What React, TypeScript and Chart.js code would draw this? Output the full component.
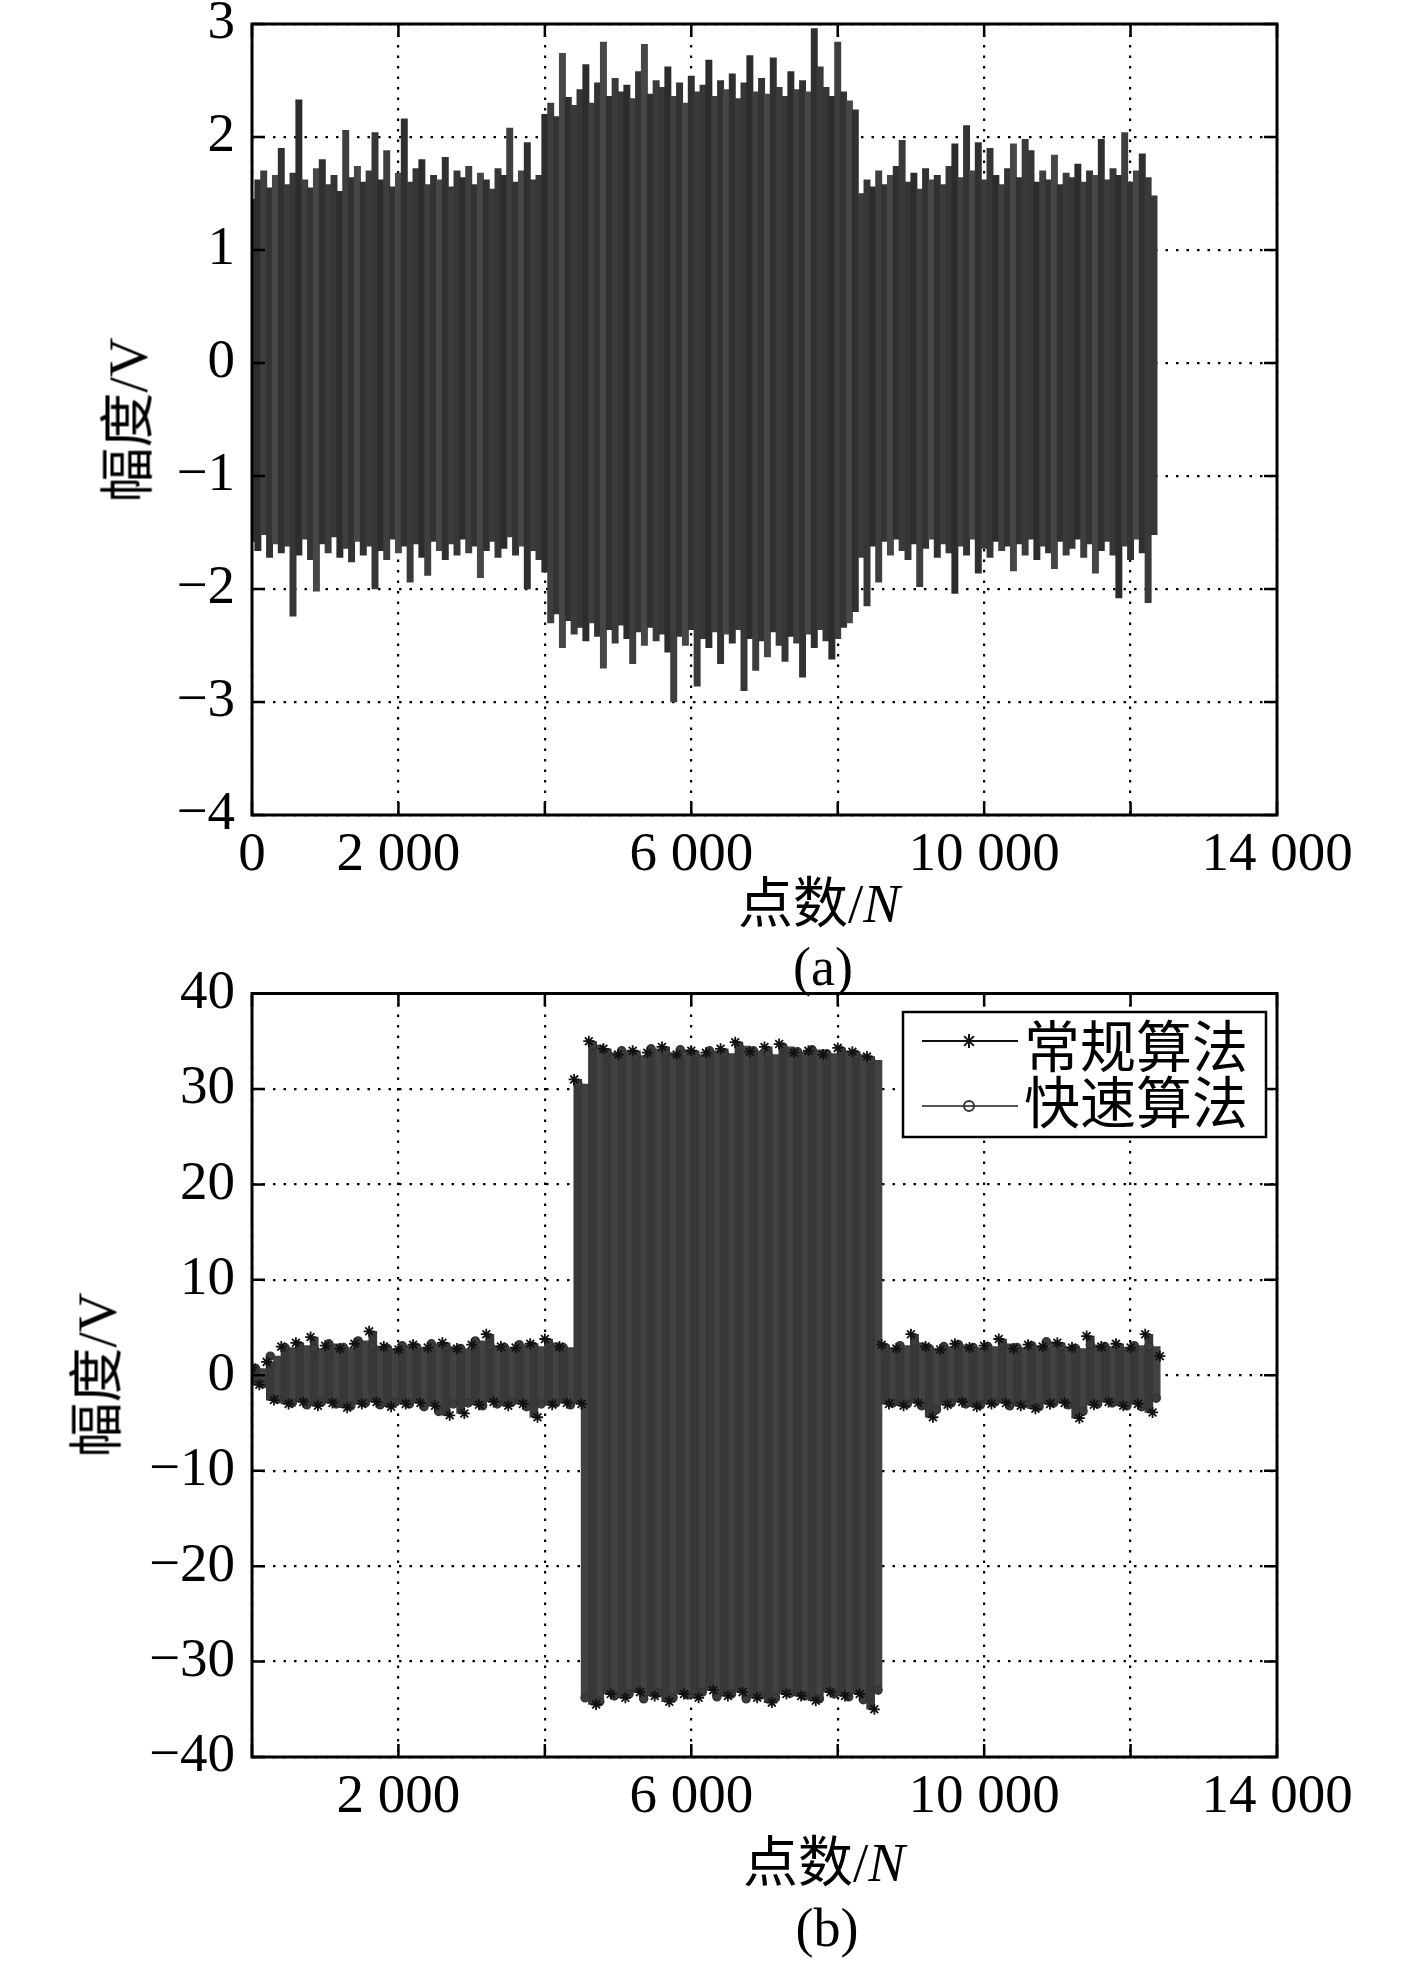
import React, { useEffect, useRef } from "react";
import { Chart, registerables } from "chart.js";

Chart.register(...registerables);

// ---------- shared axis data ----------
const X_MIN = 0;
const X_MAX = 14000;
const X_STEP = 2000;
const xLabelsA = [0, 2000, 6000, 10000, 14000];
const xLabelsB = [2000, 6000, 10000, 14000];
const yRangeA = [-4, 3];
const yRangeB = [-40, 40];

// ---------- panel (a): raw signal, extremes per 80-sample column ----------
// column x = 0, 80, 160, ... 12320
const aColStart = 0;
const aColStep = 80;
const aPeaks = [
  1.45, 1.62, 1.7, 1.55, 1.66, 1.9, 1.58, 1.68, 2.33, 1.62,
  1.55, 1.72, 1.8, 1.58, 1.66, 1.52, 2.06, 1.64, 1.74, 1.6,
  1.7, 2.04, 1.62, 1.88, 1.56, 1.68, 2.16, 1.6, 1.72, 1.8,
  1.58, 1.66, 1.62, 1.82, 1.56, 1.7, 1.64, 1.74, 1.58, 1.68,
  1.62, 1.54, 1.72, 1.66, 2.08, 1.6, 1.7, 1.95, 1.62, 1.66,
  2.2, 2.3, 2.18, 2.74, 2.35, 2.28, 2.42, 2.64, 2.3, 2.48,
  2.84, 2.36, 2.52, 2.4, 2.46, 2.34, 2.58, 2.82, 2.38, 2.5,
  2.44, 2.62, 2.36, 2.48, 2.3, 2.54, 2.4, 2.46, 2.68, 2.36,
  2.5, 2.42, 2.56, 2.34, 2.48, 2.72, 2.4, 2.52, 2.38, 2.7,
  2.44, 2.36, 2.58, 2.42, 2.5, 2.4, 2.96, 2.62, 2.44, 2.36,
  2.84, 2.4, 2.32, 2.24,
  1.5, 1.62, 1.56, 1.7, 1.58, 1.66, 1.74, 1.97, 1.6, 1.68,
  1.54, 1.72, 1.62, 1.66, 1.58, 1.74, 1.94, 1.64, 2.1, 1.7,
  1.95, 1.62, 1.9, 1.66, 1.58, 1.72, 1.94, 1.64, 1.98, 1.88,
  1.6, 1.7, 1.62, 1.84, 1.58, 1.68, 1.64, 1.76, 1.6, 1.7,
  1.66, 1.98, 1.62, 1.72, 1.66, 2.04, 1.6, 1.7, 1.85, 1.64,
  1.48,
];
const aTroughs = [
  -1.58, -1.66, -1.52, -1.72, -1.6, -1.68, -1.62, -2.24, -1.7, -1.56,
  -1.74, -2.02, -1.6, -1.68, -1.54, -1.72, -1.64, -1.76, -1.58, -1.7,
  -1.62, -2.0, -1.66, -1.74, -1.56, -1.68, -1.62, -1.94, -1.6, -1.72,
  -1.88, -1.58, -1.66, -1.74, -1.6, -1.7, -1.56, -1.68, -1.62, -1.9,
  -1.66, -1.58, -1.72, -1.64, -1.54, -1.7, -1.62, -2.0, -1.66, -1.74,
  -1.85, -2.3, -2.22, -2.52, -2.28, -2.4, -2.34, -2.46, -2.3, -2.42,
  -2.7, -2.36, -2.48, -2.32, -2.44, -2.66, -2.38, -2.5, -2.34, -2.46,
  -2.4, -2.56, -3.0, -2.42, -2.5, -2.36, -2.86, -2.44, -2.52, -2.38,
  -2.66, -2.4, -2.48, -2.36, -2.9, -2.44, -2.72, -2.46, -2.6, -2.38,
  -2.5, -2.64, -2.42, -2.48, -2.78, -2.4, -2.52, -2.36, -2.46, -2.62,
  -2.44, -2.34, -2.3, -2.2, -1.72, -2.15,
  -1.62, -1.94, -1.58, -1.7, -1.56, -1.66, -1.74, -1.6, -1.98, -1.64,
  -1.56, -1.72, -1.6, -1.68, -2.04, -1.62, -1.7, -1.56, -1.86, -1.64,
  -1.72, -1.58, -1.66, -1.62, -1.84, -1.6, -1.7, -1.56, -1.74, -1.62,
  -1.68, -1.82, -1.58, -1.7, -1.64, -1.56, -1.72, -1.6, -1.86, -1.66,
  -1.58, -1.7, -2.08, -1.62, -1.74, -1.56, -1.68, -2.12, -1.52,
];

// ---------- panel (b): two algorithms ----------
const seriesNames = ["常规算法", "快速算法"];
const bStep = 200;
// 常规算法: peaks at 0,200,...,12400 ; troughs at 100,300,...,12300
const bConvPeakStart = 0;
const bConvTroughStart = 100;
const bConvPeaks = [
  0.8, 1.4, 3.0, 3.4, 4.0, 3.1, 2.8, 3.3, 4.6, 3.0,
  2.7, 3.2, 2.9, 3.4, 2.8, 3.2, 4.3, 3.0, 2.9, 3.3,
  3.8, 3.0, 31.0, 35.0, 34.2, 33.6, 34.0, 33.8, 34.4, 33.6,
  34.0, 33.8, 34.2, 34.9, 33.9, 34.4, 34.7, 33.8, 34.0, 33.6,
  34.3, 33.9, 33.4, 3.2, 2.8, 4.3, 3.0, 2.7, 3.3, 2.9,
  3.1, 3.8, 2.8, 3.2, 3.0, 3.4, 2.9, 4.1, 3.0, 3.3,
  2.9, 4.3, 2.0,
];
const bConvTroughs = [
  -1.0, -2.6, -3.0, -2.8, -3.2, -2.9, -3.4, -3.0, -2.8, -3.3,
  -3.0, -2.9, -3.2, -4.2, -4.0, -3.1, -2.8, -3.2, -3.0, -4.4,
  -3.1, -2.9, -3.0, -34.5, -33.4, -33.8, -33.2, -33.6, -34.2, -33.4,
  -33.8, -33.0, -33.6, -33.2, -33.8, -34.3, -33.4, -33.6, -34.1, -33.2,
  -33.6, -33.4, -35.0, -3.0, -3.2, -2.9, -4.4, -3.1, -2.8, -3.3,
  -3.0, -2.9, -3.2, -3.5, -3.0, -2.9, -4.5, -3.1, -2.8, -3.2,
  -3.0, -3.9,
];
// 快速算法: peaks at 50,250,...,12250 ; troughs at 150,350,...,12350
const bFastPeakStart = 50;
const bFastTroughStart = 150;
const bFastPeaks = [
  0.7, 2.0, 2.9, 3.1, 2.8, 3.3, 2.9, 3.6, 3.0, 2.8,
  3.1, 2.9, 3.3, 3.0, 2.8, 3.6, 3.1, 2.9, 3.2, 3.0,
  3.4, 2.9, 30.5, 34.6, 33.8, 34.0, 33.5, 34.2, 33.8, 34.1,
  33.6, 34.0, 33.7, 34.5, 34.0, 33.6, 34.4, 33.9, 34.1, 33.7,
  34.0, 33.6, 33.0, 2.9, 3.1, 3.4, 2.8, 3.0, 3.2, 2.9,
  3.0, 3.3, 2.9, 3.1, 3.5, 3.0, 2.8, 3.2, 3.0, 2.9,
  3.1, 3.0,
];
const bFastTroughs = [
  -0.9, -2.5, -2.9, -3.1, -2.8, -3.0, -3.2, -2.9, -3.1, -2.8,
  -3.0, -3.3, -3.8, -3.0, -2.9, -3.2, -3.0, -2.8, -3.3, -3.0,
  -2.9, -3.1, -33.8, -34.2, -33.6, -33.4, -33.9, -33.3, -33.8, -33.5,
  -33.2, -33.7, -33.4, -33.9, -33.5, -33.8, -33.3, -33.6, -33.9, -33.4,
  -33.7, -34.0, -33.0, -2.9, -3.0, -3.2, -3.6, -2.9, -3.0, -3.1,
  -2.8, -3.2, -3.0, -3.3, -2.9, -3.1, -3.8, -3.0, -2.9, -3.2,
  -3.3, -2.4,
];

// ---------- helpers ----------
type P = { x: number; y: number };
function zigzag(peaks: number[], pStart: number, troughs: number[], tStart: number, step: number): P[] {
  const pts: P[] = [];
  peaks.forEach((v, i) => pts.push({ x: pStart + i * step, y: v }));
  troughs.forEach((v, i) => pts.push({ x: tStart + i * step, y: v }));
  pts.sort((a, b) => a.x - b.x);
  return pts;
}
function columns(xStart: number, step: number, lows: number[], highs: number[]) {
  const n = Math.min(lows.length, highs.length);
  const out: { x: number; y: [number, number] }[] = [];
  for (let i = 0; i < n; i++) out.push({ x: xStart + i * step, y: [lows[i], highs[i]] });
  return out;
}
function fmtX(v: number): string {
  return String(v).replace(/\B(?=(\d{3})+(?!\d))/g, " ");
}
function fmtY(v: number): string {
  return v < 0 ? "\u2212" + Math.abs(v) : String(v);
}

const TICK_FONT = { family: "'Liberation Serif', 'Times New Roman', serif", size: 55 };
const PAGE_W = 1417;
const PLOT_L = 252;
const PLOT_R = 1277;
const shadesA = ["#363636", "#2c2c2c", "#3e3e3e", "#333333", "#474747", "#303030", "#3a3a3a"];

const framePlugin = {
  id: "matlabFrame",
  afterDraw(chart: any) {
    const { ctx, chartArea: a, scales } = chart;
    ctx.save();
    ctx.strokeStyle = "#000";
    ctx.lineWidth = 2.5;
    ctx.beginPath();
    for (const t of scales.x.ticks) {
      const px = scales.x.getPixelForValue(t.value);
      ctx.moveTo(px, a.bottom);
      ctx.lineTo(px, a.bottom - 13);
      ctx.moveTo(px, a.top);
      ctx.lineTo(px, a.top + 13);
    }
    for (const t of scales.y.ticks) {
      const py = scales.y.getPixelForValue(t.value);
      ctx.moveTo(a.left, py);
      ctx.lineTo(a.left + 13, py);
      ctx.moveTo(a.right, py);
      ctx.lineTo(a.right - 13, py);
    }
    ctx.stroke();
    ctx.lineWidth = 3;
    ctx.strokeRect(a.left, a.top, a.right - a.left, a.bottom - a.top);
    ctx.restore();
  },
};

const boxLegendPlugin = {
  id: "boxLegend",
  afterDraw(chart: any) {
    const opts = chart.options.plugins.boxLegend;
    if (!opts || !opts.display) return;
    const { ctx, chartArea: a } = chart;
    const w = 363;
    const h = 125;
    const x0 = a.right - 11 - w;
    const y0 = a.top + 18.5;
    ctx.save();
    ctx.fillStyle = "#fff";
    ctx.fillRect(x0, y0, w, h);
    ctx.lineWidth = 2.5;
    ctx.strokeStyle = "#000";
    ctx.strokeRect(x0, y0, w, h);
    const items = chart.data.datasets.filter((d: any) => seriesNames.includes(d.label));
    items.forEach((d: any, i: number) => {
      const ly = y0 + (i === 0 ? 29 : 94);
      const ty = y0 + (i === 0 ? 34 : 90);
      ctx.strokeStyle = d.borderColor;
      ctx.lineWidth = 2;
      ctx.beginPath();
      ctx.moveTo(x0 + 19, ly);
      ctx.lineTo(x0 + 115, ly);
      ctx.stroke();
      const cx = x0 + 66;
      ctx.strokeStyle = d.pointBorderColor;
      ctx.lineWidth = 2;
      ctx.beginPath();
      if (d.pointStyle === "star") {
        const r = 7;
        ctx.moveTo(cx - r, ly); ctx.lineTo(cx + r, ly);
        ctx.moveTo(cx, ly - r); ctx.lineTo(cx, ly + r);
        const q = r * 0.7;
        ctx.moveTo(cx - q, ly - q); ctx.lineTo(cx + q, ly + q);
        ctx.moveTo(cx - q, ly + q); ctx.lineTo(cx + q, ly - q);
      } else {
        ctx.arc(cx, ly, 5, 0, Math.PI * 2);
      }
      ctx.stroke();
      ctx.fillStyle = "#000";
      ctx.font = "56px 'Noto Sans CJK SC'";
      ctx.textBaseline = "middle";
      ctx.textAlign = "left";
      ctx.fillText(d.label, x0 + 121, ty);
    });
    ctx.restore();
  },
};

function baseOptions(opts: {
  yMin: number; yMax: number; yStep: number; xLabels: number[];
  padTop: number; xHeight: number;
}) {
  return {
    responsive: false,
    animation: false as const,
    devicePixelRatio: 1,
    events: [] as any[],
    layout: { padding: { left: 0, right: PAGE_W - PLOT_R, top: opts.padTop, bottom: 0 } },
    elements: { line: { tension: 0 } },
    plugins: {
      legend: { display: false },
      tooltip: { enabled: false },
      boxLegend: { display: false },
    },
    scales: {
      x: {
        type: "linear" as const,
        min: X_MIN,
        max: X_MAX,
        offset: false,
        ticks: {
          stepSize: X_STEP,
          autoSkip: false,
          maxRotation: 0,
          minRotation: 0,
          padding: 8,
          color: "#000",
          font: TICK_FONT,
          callback: (v: any) => (opts.xLabels.includes(Number(v)) ? fmtX(Number(v)) : ""),
        },
        grid: { color: "#000", lineWidth: 2.2, drawTicks: false, offset: false },
        border: { display: false, dash: [2.5, 8] },
        afterFit: (s: any) => {
          s.height = opts.xHeight;
          s.paddingLeft = 0;
          s.paddingRight = 0;
        },
      },
      y: {
        type: "linear" as const,
        min: opts.yMin,
        max: opts.yMax,
        beginAtZero: false,
        ticks: {
          stepSize: opts.yStep,
          autoSkip: false,
          padding: 17,
          color: "#000",
          font: TICK_FONT,
          callback: (v: any) => fmtY(Number(v)),
        },
        grid: { color: "#000", lineWidth: 2.2, drawTicks: false },
        border: { display: false, dash: [2.5, 8] },
        afterFit: (s: any) => {
          s.width = PLOT_L;
          s.paddingTop = 0;
          s.paddingBottom = 0;
        },
      },
    },
  };
}

const CANVAS_A_H = 1000;
const CANVAS_B_TOP = 940;
const CANVAS_B_H = 1961 - CANVAS_B_TOP;

function ChartA() {
  const ref = useRef<HTMLCanvasElement>(null);
  useEffect(() => {
    const options: any = baseOptions({
      yMin: yRangeA[0], yMax: yRangeA[1], yStep: 1, xLabels: xLabelsA,
      padTop: 24, xHeight: CANVAS_A_H - 815,
    });
    const chart = new Chart(ref.current as HTMLCanvasElement, {
      type: "bar",
      data: {
        datasets: [
          {
            label: "signal",
            data: columns(aColStart, aColStep, aTroughs, aPeaks) as any,
            backgroundColor: (c: any) => shadesA[c.dataIndex % shadesA.length],
            borderWidth: 0,
            barThickness: 6.3,
            grouped: false,
          } as any,
        ],
      },
      options,
      plugins: [framePlugin],
    });
    return () => chart.destroy();
  }, []);
  return (
    <canvas
      ref={ref}
      width={PAGE_W}
      height={CANVAS_A_H}
      style={{ position: "absolute", left: 0, top: 0, width: PAGE_W, height: CANVAS_A_H }}
    />
  );
}

function ChartB() {
  const ref = useRef<HTMLCanvasElement>(null);
  useEffect(() => {
    const options: any = baseOptions({
      yMin: yRangeB[0], yMax: yRangeB[1], yStep: 10, xLabels: xLabelsB,
      padTop: 993.5 - CANVAS_B_TOP, xHeight: CANVAS_B_H - (1757 - CANVAS_B_TOP),
    });
    options.plugins.boxLegend = { display: true };
    const chart = new Chart(ref.current as HTMLCanvasElement, {
      type: "bar",
      data: {
        datasets: [
          {
            type: "line",
            label: seriesNames[0],
            data: zigzag(bConvPeaks, bConvPeakStart, bConvTroughs, bConvTroughStart, bStep),
            showLine: false,
            borderColor: "#111",
            pointStyle: "star",
            pointRadius: 5.5,
            pointBorderColor: "#111",
            pointBorderWidth: 1.8,
            order: 1,
          },
          {
            type: "line",
            label: seriesNames[1],
            data: zigzag(bFastPeaks, bFastPeakStart, bFastTroughs, bFastTroughStart, bStep),
            showLine: false,
            borderColor: "#555",
            pointStyle: "circle",
            pointRadius: 4,
            pointBorderColor: "#333",
            pointBackgroundColor: "#3c3c3c",
            pointBorderWidth: 1.5,
            order: 2,
          },
          {
            type: "bar",
            label: "conv-body",
            data: columns(bConvPeakStart + 50, bStep, bConvTroughs, bConvPeaks) as any,
            backgroundColor: "#383838",
            borderWidth: 0,
            barThickness: 8,
            grouped: false,
            order: 3,
          } as any,
          {
            type: "bar",
            label: "fast-body",
            data: columns(bFastPeakStart + 100, bStep, bFastTroughs, bFastPeaks) as any,
            backgroundColor: "#424242",
            borderWidth: 0,
            barThickness: 8,
            grouped: false,
            order: 4,
          } as any,
        ],
      },
      options,
      plugins: [framePlugin, boxLegendPlugin],
    });
    return () => chart.destroy();
  }, []);
  return (
    <canvas
      ref={ref}
      width={PAGE_W}
      height={CANVAS_B_H}
      style={{ position: "absolute", left: 0, top: CANVAS_B_TOP, width: PAGE_W, height: CANVAS_B_H }}
    />
  );
}

const textFont = "'Liberation Serif', 'Times New Roman', 'Noto Sans CJK SC', serif";

function Label(props: { x: number; y: number; rotate?: boolean; size?: number; children: React.ReactNode }) {
  return (
    <div
      style={{
        position: "absolute",
        left: props.x,
        top: props.y,
        transform: `translate(-50%, -50%)${props.rotate ? " rotate(-90deg)" : ""}`,
        fontFamily: textFont,
        fontSize: props.size ?? 55,
        lineHeight: 1,
        whiteSpace: "nowrap",
        color: "#000",
      }}
    >
      {props.children}
    </div>
  );
}

export default function App() {
  return (
    <div
      style={{
        position: "absolute",
        left: 0,
        top: 0,
        width: PAGE_W,
        height: 1961,
        background: "#fff",
        overflow: "hidden",
      }}
    >
      <ChartA />
      <ChartB />
      <Label x={128} y={420} rotate>
        幅度/V
      </Label>
      <Label x={819} y={903}>
        点数/<i>N</i>
      </Label>
      <Label x={823} y={967} size={54}>
        (a)
      </Label>
      <Label x={97} y={1375} rotate>
        幅度/V
      </Label>
      <Label x={824} y={1862}>
        点数/<i>N</i>
      </Label>
      <Label x={827} y={1928} size={54}>
        (b)
      </Label>
    </div>
  );
}
